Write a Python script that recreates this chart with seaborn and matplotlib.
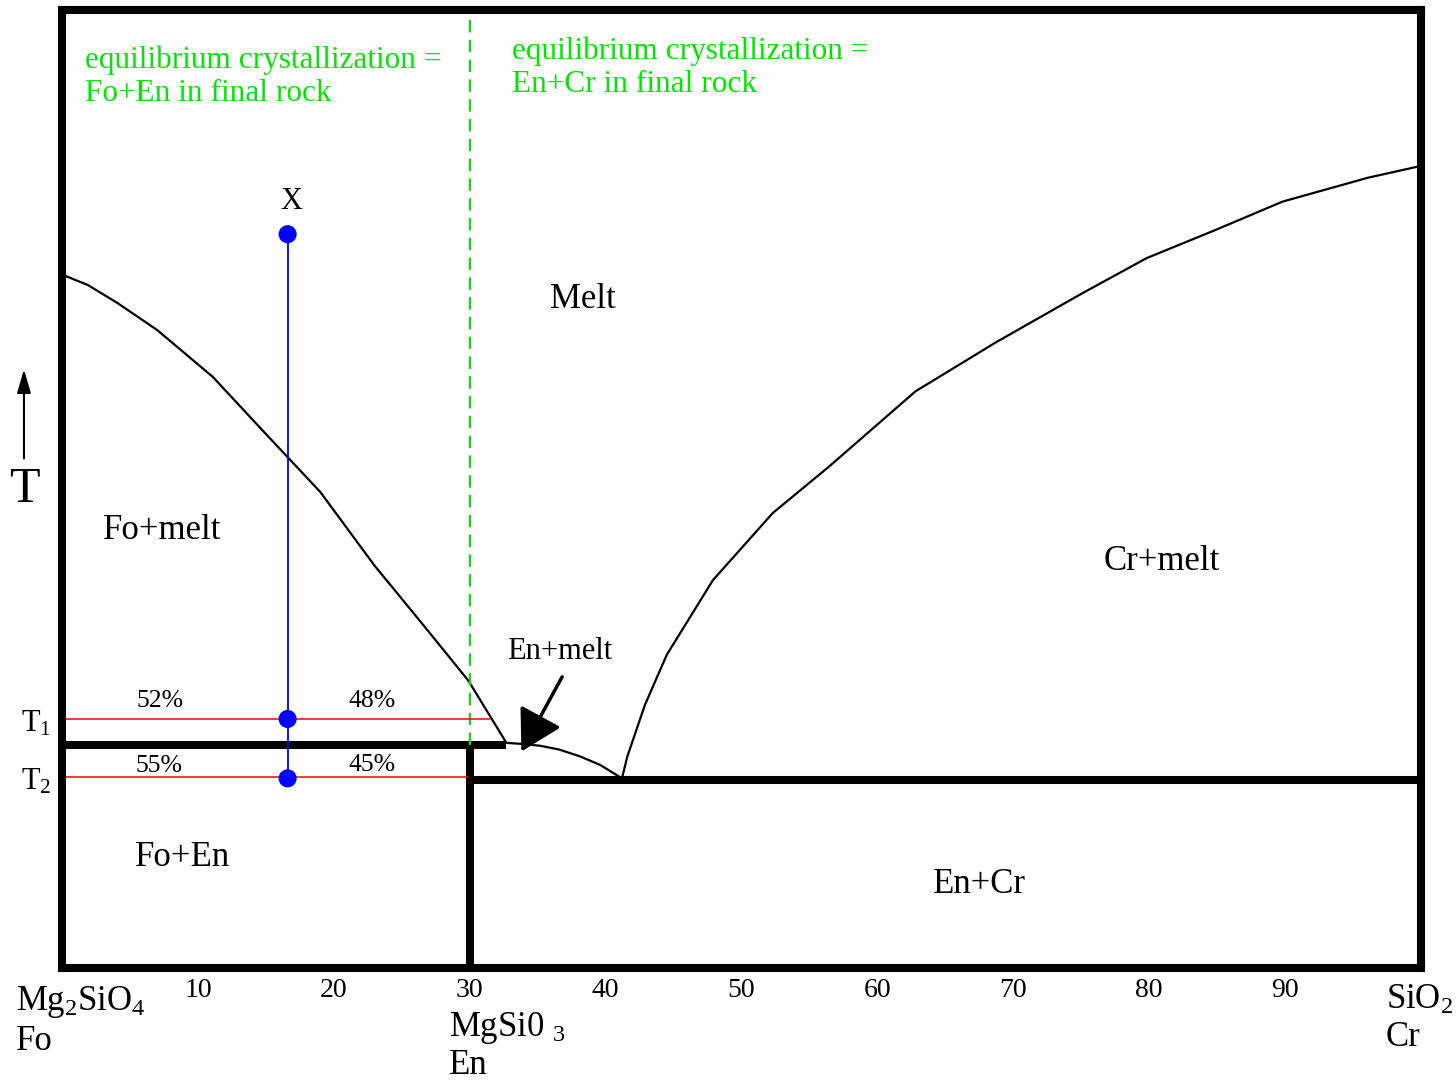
import numpy as np
import pandas as pd
import matplotlib
matplotlib.use("Agg")
import matplotlib.pyplot as plt
import seaborn as sns

# Composition (wt% SiO2 axis 0..100) and relative temperature (0..100)
fo_liq_x = [0.15, 1.9, 4.1, 7.0, 11.1, 14.9, 19.0, 23.0, 26.7, 29.9, 32.7]
fo_liq_T = [72.3, 71.3, 69.4, 66.6, 61.7, 55.9, 49.7, 42.0, 35.6, 30.0, 23.5]

en_liq_x = [32.7, 33.8, 35.2, 36.6, 38.1, 39.6, 41.2]
en_liq_T = [23.5, 23.4, 23.2, 22.8, 22.1, 21.2, 19.8]

cr_liq_x = [41.2, 41.6, 42.9, 44.5, 47.9, 52.3, 56.4, 62.8, 68.7, 74.9, 79.8, 84.8, 89.8, 96.1, 99.9]
cr_liq_T = [19.8, 22.1, 27.5, 32.7, 40.5, 47.5, 52.3, 60.2, 65.3, 70.3, 74.1, 77.0, 80.0, 82.5, 83.7]

peritectic_T = 23.3
eutectic_T = 19.6
en_x = 30.0

bulk_x = 16.6
bulk_T = [76.6, 26.0, 19.8]
t1_T, t1_end = 26.0, 31.5
t2_T, t2_end = 19.9, 29.9

tick_vals = [10, 20, 30, 40, 50, 60, 70, 80, 90]
tick_labels = ["10", "20", "30", "40", "50", "60", "70", "80", "90"]

sns.set_theme(style="white")
plt.rcParams['font.family'] = ['Liberation Serif', 'DejaVu Serif']
plt.rcParams['mathtext.fontset'] = 'custom'
plt.rcParams['mathtext.rm'] = 'Liberation Serif'
plt.rcParams['mathtext.it'] = 'Liberation Serif'
plt.rcParams['text.color'] = 'black'
plt.rcParams['xtick.color'] = 'black'

fig = plt.figure(figsize=(14.56, 10.81), dpi=100)
ax = fig.add_axes([0.0426, 0.1045, 0.9334, 0.8862])
ax.set_xlim(0, 100)
ax.set_ylim(0, 100)

for s in ax.spines.values():
    s.set_linewidth(5.8)
    s.set_color('black')

# liquidus curves
sns.lineplot(x=fo_liq_x, y=fo_liq_T, ax=ax, color='black', lw=1.6, sort=False, estimator=None)
sns.lineplot(x=en_liq_x, y=en_liq_T, ax=ax, color='black', lw=1.6, sort=False, estimator=None)
sns.lineplot(x=cr_liq_x, y=cr_liq_T, ax=ax, color='black', lw=1.6, sort=False, estimator=None)

# solidus lines
ax.plot([0, fo_liq_x[-1]], [peritectic_T, peritectic_T], color='black', lw=5.8, solid_capstyle='butt')
ax.plot([en_x, en_x], [0, peritectic_T], color='black', lw=5.8, solid_capstyle='butt')
ax.plot([en_x, 100], [eutectic_T, eutectic_T], color='black', lw=5.8, solid_capstyle='butt')

# green boundary
ax.plot([en_x, en_x], [peritectic_T, 100], color='#00e600', lw=1.5, ls=(0, (6, 3.5)))

# red tie lines
ax.plot([0, t1_end], [t1_T, t1_T], color='red', lw=1.1)
ax.plot([0, t2_end], [t2_T, t2_T], color='red', lw=1.1)

# blue path
ax.plot([bulk_x, bulk_x], [bulk_T[0], bulk_T[-1]], color='blue', lw=1.3)
sns.scatterplot(x=[bulk_x] * len(bulk_T), y=bulk_T, ax=ax, color='blue', s=170,
                edgecolor='none', zorder=5)

# region labels
ax.text(38.3, 69.8, "Melt", fontsize=25, ha='center', va='center')
ax.text(7.4, 45.7, "Fo+melt", fontsize=25, ha='center', va='center')
ax.text(80.9, 42.4, "Cr+melt", fontsize=25, ha='center', va='center')
ax.text(8.9, 11.5, "Fo+En", fontsize=25, ha='center', va='center')
ax.text(67.5, 8.7, "En+Cr", fontsize=25, ha='center', va='center')
ax.text(16.9, 80.0, "X", fontsize=22, ha='center', va='center')
ax.text(36.6, 33.0, "En+melt", fontsize=22, ha='center', va='center')
ax.annotate("", xy=(33.8, 22.6), xytext=(36.8, 30.4),
            arrowprops=dict(arrowstyle='-|>,head_length=2.1,head_width=1.2',
                            color='black', lw=2.5, shrinkA=0, shrinkB=0))

for txt, x, y in [("52%", 7.2, 27.9), ("48%", 22.8, 27.9), ("55%", 7.1, 21.1), ("45%", 22.8, 21.2)]:
    ax.text(x, y, txt, fontsize=18.5, ha='center', va='center')

ax.text(1.7, 96.3, "equilibrium crystallization =\nFo+En in final rock",
        fontsize=22.5, color='#00e600', ha='left', va='top', linespacing=1.17)
ax.text(33.1, 97.2, "equilibrium crystallization =\nEn+Cr in final rock",
        fontsize=22.5, color='#00e600', ha='left', va='top', linespacing=1.17)

# axis labels outside
ax.set_xticks(tick_vals)
ax.set_xticklabels(tick_labels, fontsize=20)
ax.tick_params(axis='x', length=0, pad=7.5)
ax.set_yticks([])

ax.text(-0.8, t1_T - 0.5, r"T$_1$", fontsize=22, ha='right', va='center', clip_on=False)
ax.text(-0.8, t2_T - 0.5, r"T$_2$", fontsize=22, ha='right', va='center', clip_on=False)
ax.text(-2.8, 49.9, "T", fontsize=36, ha='center', va='center', clip_on=False)
ax.annotate("", xy=(-2.8, 62.5), xytext=(-2.8, 53.2), xycoords='data',
            arrowprops=dict(arrowstyle='-|>,head_length=1.2,head_width=0.35',
                            color='black', lw=1.5, shrinkA=0, shrinkB=0),
            annotation_clip=False)

ax.text(-3.4, -1.7, "Mg$_2$SiO$_4$\nFo", fontsize=25, ha='left', va='top',
        linespacing=1.2, clip_on=False)
ax.text(28.5, -4.4, "MgSi0 $_3$\nEn", fontsize=25, ha='left', va='top',
        linespacing=1.12, clip_on=False)
ax.text(97.4, -1.6, "SiO$_2$\nCr", fontsize=25, ha='left', va='top',
        linespacing=1.2, clip_on=False)

fig.savefig("out.png", dpi=100)
